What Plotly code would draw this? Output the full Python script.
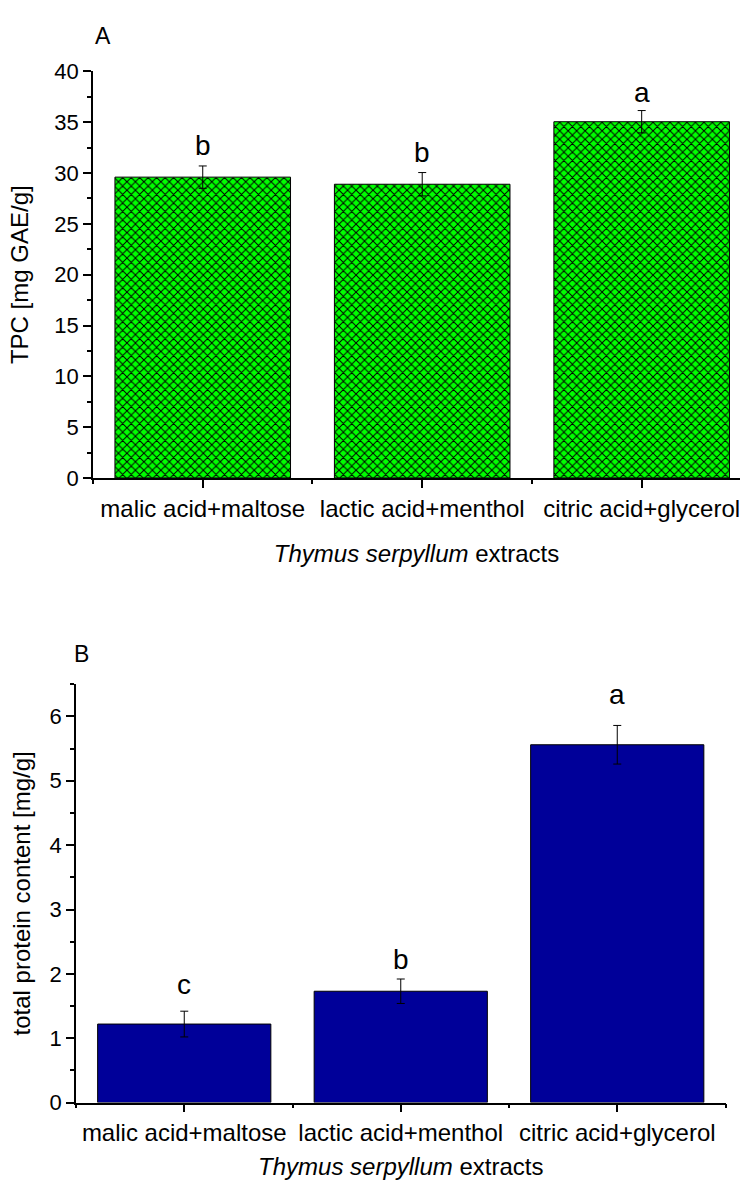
import plotly.graph_objects as go

# ---- data ----
categories = ["malic acid+maltose", "lactic acid+menthol", "citric acid+glycerol"]
tpc_values = [29.6, 28.9, 35.05]
tpc_errors = [1.1, 1.15, 1.1]
tpc_letters = ["b", "b", "a"]

protein_values = [1.22, 1.73, 5.56]
protein_errors = [0.2, 0.19, 0.3]
protein_letters = ["c", "b", "a"]

# ---- styling / layout (not data) ----
W, H = 741, 1189
FONT = "Liberation Sans, Arial, sans-serif"
tpc_letter_shift = [3, 3, 1]
protein_letter_shift = [9, 2, 13]

xpos = list(range(len(categories)))

fig = go.Figure()

fig.add_trace(go.Bar(
    x=xpos, y=tpc_values, width=0.8,
    marker=dict(color="#00ff00", line=dict(color="black", width=1),
                pattern=dict(shape="x", fgcolor="black", bgcolor="#00ff00",
                             size=6, solidity=0.3, fillmode="replace")),
    error_y=dict(type="data", array=tpc_errors, color="black", thickness=1, width=4),
    xaxis="x", yaxis="y", showlegend=False,
))

fig.add_trace(go.Bar(
    x=xpos, y=protein_values, width=0.8,
    marker=dict(color="#000099", line=dict(color="black", width=1)),
    error_y=dict(type="data", array=protein_errors, color="black", thickness=1, width=4),
    xaxis="x2", yaxis="y2", showlegend=False,
))

def px_to_paper_y(py):
    return 1 - py / H

axis_common = dict(showline=True, linecolor="black", linewidth=1.5, ticks="outside",
                   tickcolor="black", tickwidth=1.5, ticklen=8, showgrid=False, zeroline=False)
xtickfont = dict(family=FONT, size=24, color="black")
ytickfont = dict(family=FONT, size=22, color="black")
titlefont = dict(family=FONT, size=24, color="black")

fig.update_layout(
    width=W, height=H, margin=dict(l=0, r=0, t=0, b=0),
    paper_bgcolor="white", plot_bgcolor="white",
    font=dict(family=FONT, color="black"),
    bargap=0.2,
    xaxis=dict(domain=[93 / W, 740 / W], range=[-0.5, 2.448], anchor="y",
               tickmode="array", tickvals=xpos, ticktext=categories, tickfont=xtickfont,
               minor=dict(tickmode="linear", tick0=-0.5, dtick=1, ticklen=4,
                          tickwidth=1.5, tickcolor="black", ticks="outside"),
               title=dict(text="<i>Thymus serpyllum</i> extracts", font=titlefont, standoff=25),
               **axis_common),
    yaxis=dict(domain=[px_to_paper_y(476), px_to_paper_y(60.7)], range=[0, 40], anchor="x",
               tickmode="linear", tick0=0, dtick=5, tickfont=ytickfont,
               minor=dict(tickmode="linear", tick0=0, dtick=2.5, ticklen=4,
                          tickwidth=1.5, tickcolor="black", ticks="outside"),
               title=dict(text="TPC [mg GAE/g]", font=titlefont, standoff=19),
               **axis_common),
    xaxis2=dict(domain=[76 / W, 725.5 / W], range=[-0.5, 2.5], anchor="y2",
                tickmode="array", tickvals=xpos, ticktext=categories, tickfont=xtickfont,
                minor=dict(tickmode="linear", tick0=-0.5, dtick=1, ticklen=4,
                           tickwidth=1.5, tickcolor="black", ticks="outside"),
                title=dict(text="<i>Thymus serpyllum</i> extracts", font=titlefont, standoff=13),
                **axis_common),
    yaxis2=dict(domain=[px_to_paper_y(1114), px_to_paper_y(686.7)], range=[0, 6.5], anchor="x2",
                tickmode="linear", tick0=0, dtick=1, tickfont=ytickfont,
                minor=dict(tickmode="linear", tick0=0, dtick=0.5, ticklen=4,
                           tickwidth=1.5, tickcolor="black", ticks="outside"),
                title=dict(text="total protein content [mg/g]", font=titlefont, standoff=12),
                **axis_common),
)

annotations = []
for i, (v, e, t) in enumerate(zip(tpc_values, tpc_errors, tpc_letters)):
    annotations.append(dict(x=xpos[i], y=v + e, xref="x", yref="y", text=t, showarrow=False,
                            yanchor="bottom", yshift=tpc_letter_shift[i],
                            font=dict(family=FONT, size=28, color="black")))
for i, (v, e, t) in enumerate(zip(protein_values, protein_errors, protein_letters)):
    annotations.append(dict(x=xpos[i], y=v + e, xref="x2", yref="y2", text=t, showarrow=False,
                            yanchor="bottom", yshift=protein_letter_shift[i],
                            font=dict(family=FONT, size=28, color="black")))
annotations.append(dict(x=103 / W, y=px_to_paper_y(25), xref="paper", yref="paper", text="A",
                        showarrow=False, xanchor="center", yanchor="middle",
                        font=dict(family=FONT, size=23, color="black")))
annotations.append(dict(x=81.5 / W, y=px_to_paper_y(655.5), xref="paper", yref="paper", text="B",
                        showarrow=False, xanchor="center", yanchor="middle",
                        font=dict(family=FONT, size=23, color="black")))
fig.update_layout(annotations=annotations)

fig.write_html("out.html")
